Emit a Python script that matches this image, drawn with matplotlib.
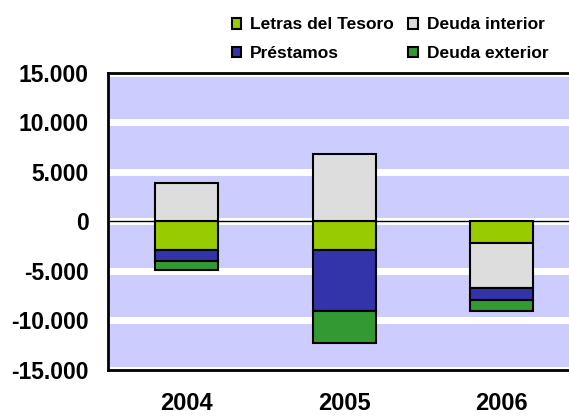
import matplotlib.pyplot as plt
import numpy as np
from matplotlib.ticker import FuncFormatter

years = ['2004', '2005', '2006']
series = ['Letras del Tesoro', 'Deuda interior', 'Préstamos', 'Deuda exterior']
letras = [-2900, -2850, -2200]
deuda_interior = [3900, 6800, -4500]
prestamos = [-1100, -6150, -1200]
deuda_exterior = [-950, -3250, -1100]
colors = ['#99CC00', '#DDDDDD', '#3333AA', '#339933']

plt.rcParams['font.family'] = ['Liberation Sans', 'DejaVu Sans']
plt.rcParams['font.weight'] = 'bold'

fig = plt.figure(figsize=(5.69, 4.16), dpi=100)
ax = fig.add_axes([0.1898, 0.1106, 0.8307, 0.714])
ax.set_facecolor('#CCCCFF')

x = np.arange(len(years))
pos_base = np.zeros(len(years))
neg_base = np.zeros(len(years))
bars = {}
for name, vals, col in zip(series, [letras, deuda_interior, prestamos, deuda_exterior], colors):
    vals = np.array(vals, dtype=float)
    base = np.where(vals >= 0, pos_base, neg_base)
    bars[name] = ax.bar(x, vals, 0.4, bottom=base, color=col, edgecolor='black',
                        linewidth=1.5, zorder=3)
    pos_base += np.where(vals >= 0, vals, 0)
    neg_base += np.where(vals < 0, vals, 0)

ax.axhline(0, color='black', linewidth=1, zorder=2)
ax.set_xlim(-0.5, 2.5)
ax.set_ylim(-15000, 15000)
ax.set_yticks(np.arange(-15000, 15001, 5000))
ax.yaxis.set_major_formatter(FuncFormatter(lambda v, p: f'{int(v):,}'.replace(',', '.')))
ax.set_xticks(x)
ax.set_xticklabels(years)
ax.tick_params(axis='y', length=0, pad=14, labelsize=16.5)
ax.tick_params(axis='x', length=0, pad=16, labelsize=17)
ax.grid(axis='y', color='white', linewidth=5, zorder=1)
ax.set_axisbelow(True)
for s in ax.spines.values():
    s.set_linewidth(2)

# legend order: column-wise fill
order = ['Letras del Tesoro', 'Préstamos', 'Deuda interior', 'Deuda exterior']
fig.legend([bars[n] for n in order], order, ncol=2, loc='upper left',
           bbox_to_anchor=(0.407, 0.958), frameon=False, fontsize=12.5,
           handlelength=0.55, handleheight=0.55, handletextpad=0.5,
           columnspacing=0.85, labelspacing=0.8, borderpad=0, borderaxespad=0)

fig.savefig('out.png', dpi=100)
